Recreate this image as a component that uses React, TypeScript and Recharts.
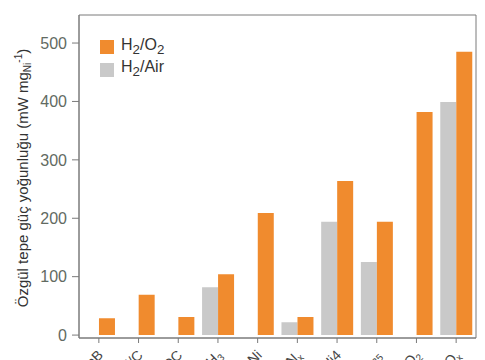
import { BarChart, Bar, XAxis, YAxis, ReferenceArea } from 'recharts';

const categories = ['NiCoB', 'Ni/C', 'Ni/NDC', 'Ni-NH_3', 'Cu-Ni', 'Ni/CN_x', 'MoNi4', 'Ni_65Nb_35', 'Ni/CeO_2', 'Ni-CrO_x'];
const h2o2 = [29, 69, 31, 104, 209, 31, 264, 194, 382, 485];
const h2air = [null, null, null, 82, null, 22, 194, 125, null, 399];
const yTicks = [0, 100, 200, 300, 400, 500];

const data = categories.map((name, i) => ({ name, air: h2air[i], o2: h2o2[i] }));

const ORANGE = '#F08B2E';
const GRAY = '#C9C9C9';
const AXIS = '#7a7a7a';
const FONT = '"Liberation Sans", Arial, sans-serif';
const Y_MIN = -5;
const Y_MAX = 548;

// split "Ni-NH_3" into plain / subscript parts
function parts(label: string) {
  return label.split(/_(\d+|x)/).map((t, i) => ({ t, sub: i % 2 === 1 }));
}

function CategoryTick({ x, y, payload }: any) {
  const p = parts(payload.value);
  return (
    <g transform={`translate(${x + 5},${y + 11}) rotate(-45)`}>
      <text textAnchor="end" fontSize={14} fill="#444" fontFamily={FONT}>
        {p.map((s, i) =>
          s.sub ? (
            <tspan key={i} fontSize={10} dy={3}>{s.t}</tspan>
          ) : (
            <tspan key={i} dy={i > 0 ? -3 : 0}>{s.t}</tspan>
          )
        )}
      </text>
    </g>
  );
}

function YLabel() {
  return (
    <text
      x={28}
      y={178}
      transform="rotate(-90, 28, 178)"
      textAnchor="middle"
      fontSize={15}
      fill="#333"
      fontFamily={FONT}
    >
      Özgül tepe güç yoğunluğu (mW mg
      <tspan fontSize={10} dy={3}>Ni</tspan>
      <tspan fontSize={10} dy={-9}>-1</tspan>
      <tspan dy={6}>)</tspan>
    </text>
  );
}

function LegendBox() {
  const rows = [
    { color: ORANGE, label: <>H<sub>2</sub>/O<sub>2</sub></> },
    { color: GRAY, label: <>H<sub>2</sub>/Air</> },
  ];
  return (
    <div style={{ position: 'absolute', left: 100, top: 36, fontFamily: FONT, fontSize: 16, color: '#333' }}>
      {rows.map((r, i) => (
        <div key={i} style={{ display: 'flex', alignItems: 'center', height: 22.6, lineHeight: '16px' }}>
          <span style={{ width: 14, height: 14, background: r.color, display: 'inline-block', marginRight: 7 }} />
          <span>{r.label}</span>
        </div>
      ))}
    </div>
  );
}

export default function App() {
  return (
    <div style={{ position: 'absolute', left: 0, top: 0, width: 485, height: 360, background: '#fff' }}>
      <BarChart
        width={485}
        height={360}
        data={data}
        margin={{ top: 15, right: 9, left: 0, bottom: 0 }}
        barCategoryGap="10%"
        barGap={0}
      >
        <XAxis
          dataKey="name"
          height={22}
          interval={0}
          tick={<CategoryTick />}
          tickSize={5}
          axisLine={{ stroke: AXIS }}
          tickLine={{ stroke: AXIS }}
        />
        <YAxis
          width={79}
          domain={[Y_MIN, Y_MAX]}
          ticks={yTicks}
          allowDataOverflow
          tickSize={7}
          tickMargin={5}
          tick={{ fontSize: 16, fill: '#626a62', fontFamily: FONT }}
          axisLine={{ stroke: AXIS }}
          tickLine={{ stroke: AXIS }}
          label={<YLabel />}
        />
        <ReferenceArea y1={Y_MIN} y2={Y_MAX} fill="none" stroke={AXIS} strokeWidth={1} />
        <Bar dataKey="air" fill={GRAY} isAnimationActive={false} />
        <Bar dataKey="o2" fill={ORANGE} isAnimationActive={false} />
      </BarChart>
      <LegendBox />
    </div>
  );
}
